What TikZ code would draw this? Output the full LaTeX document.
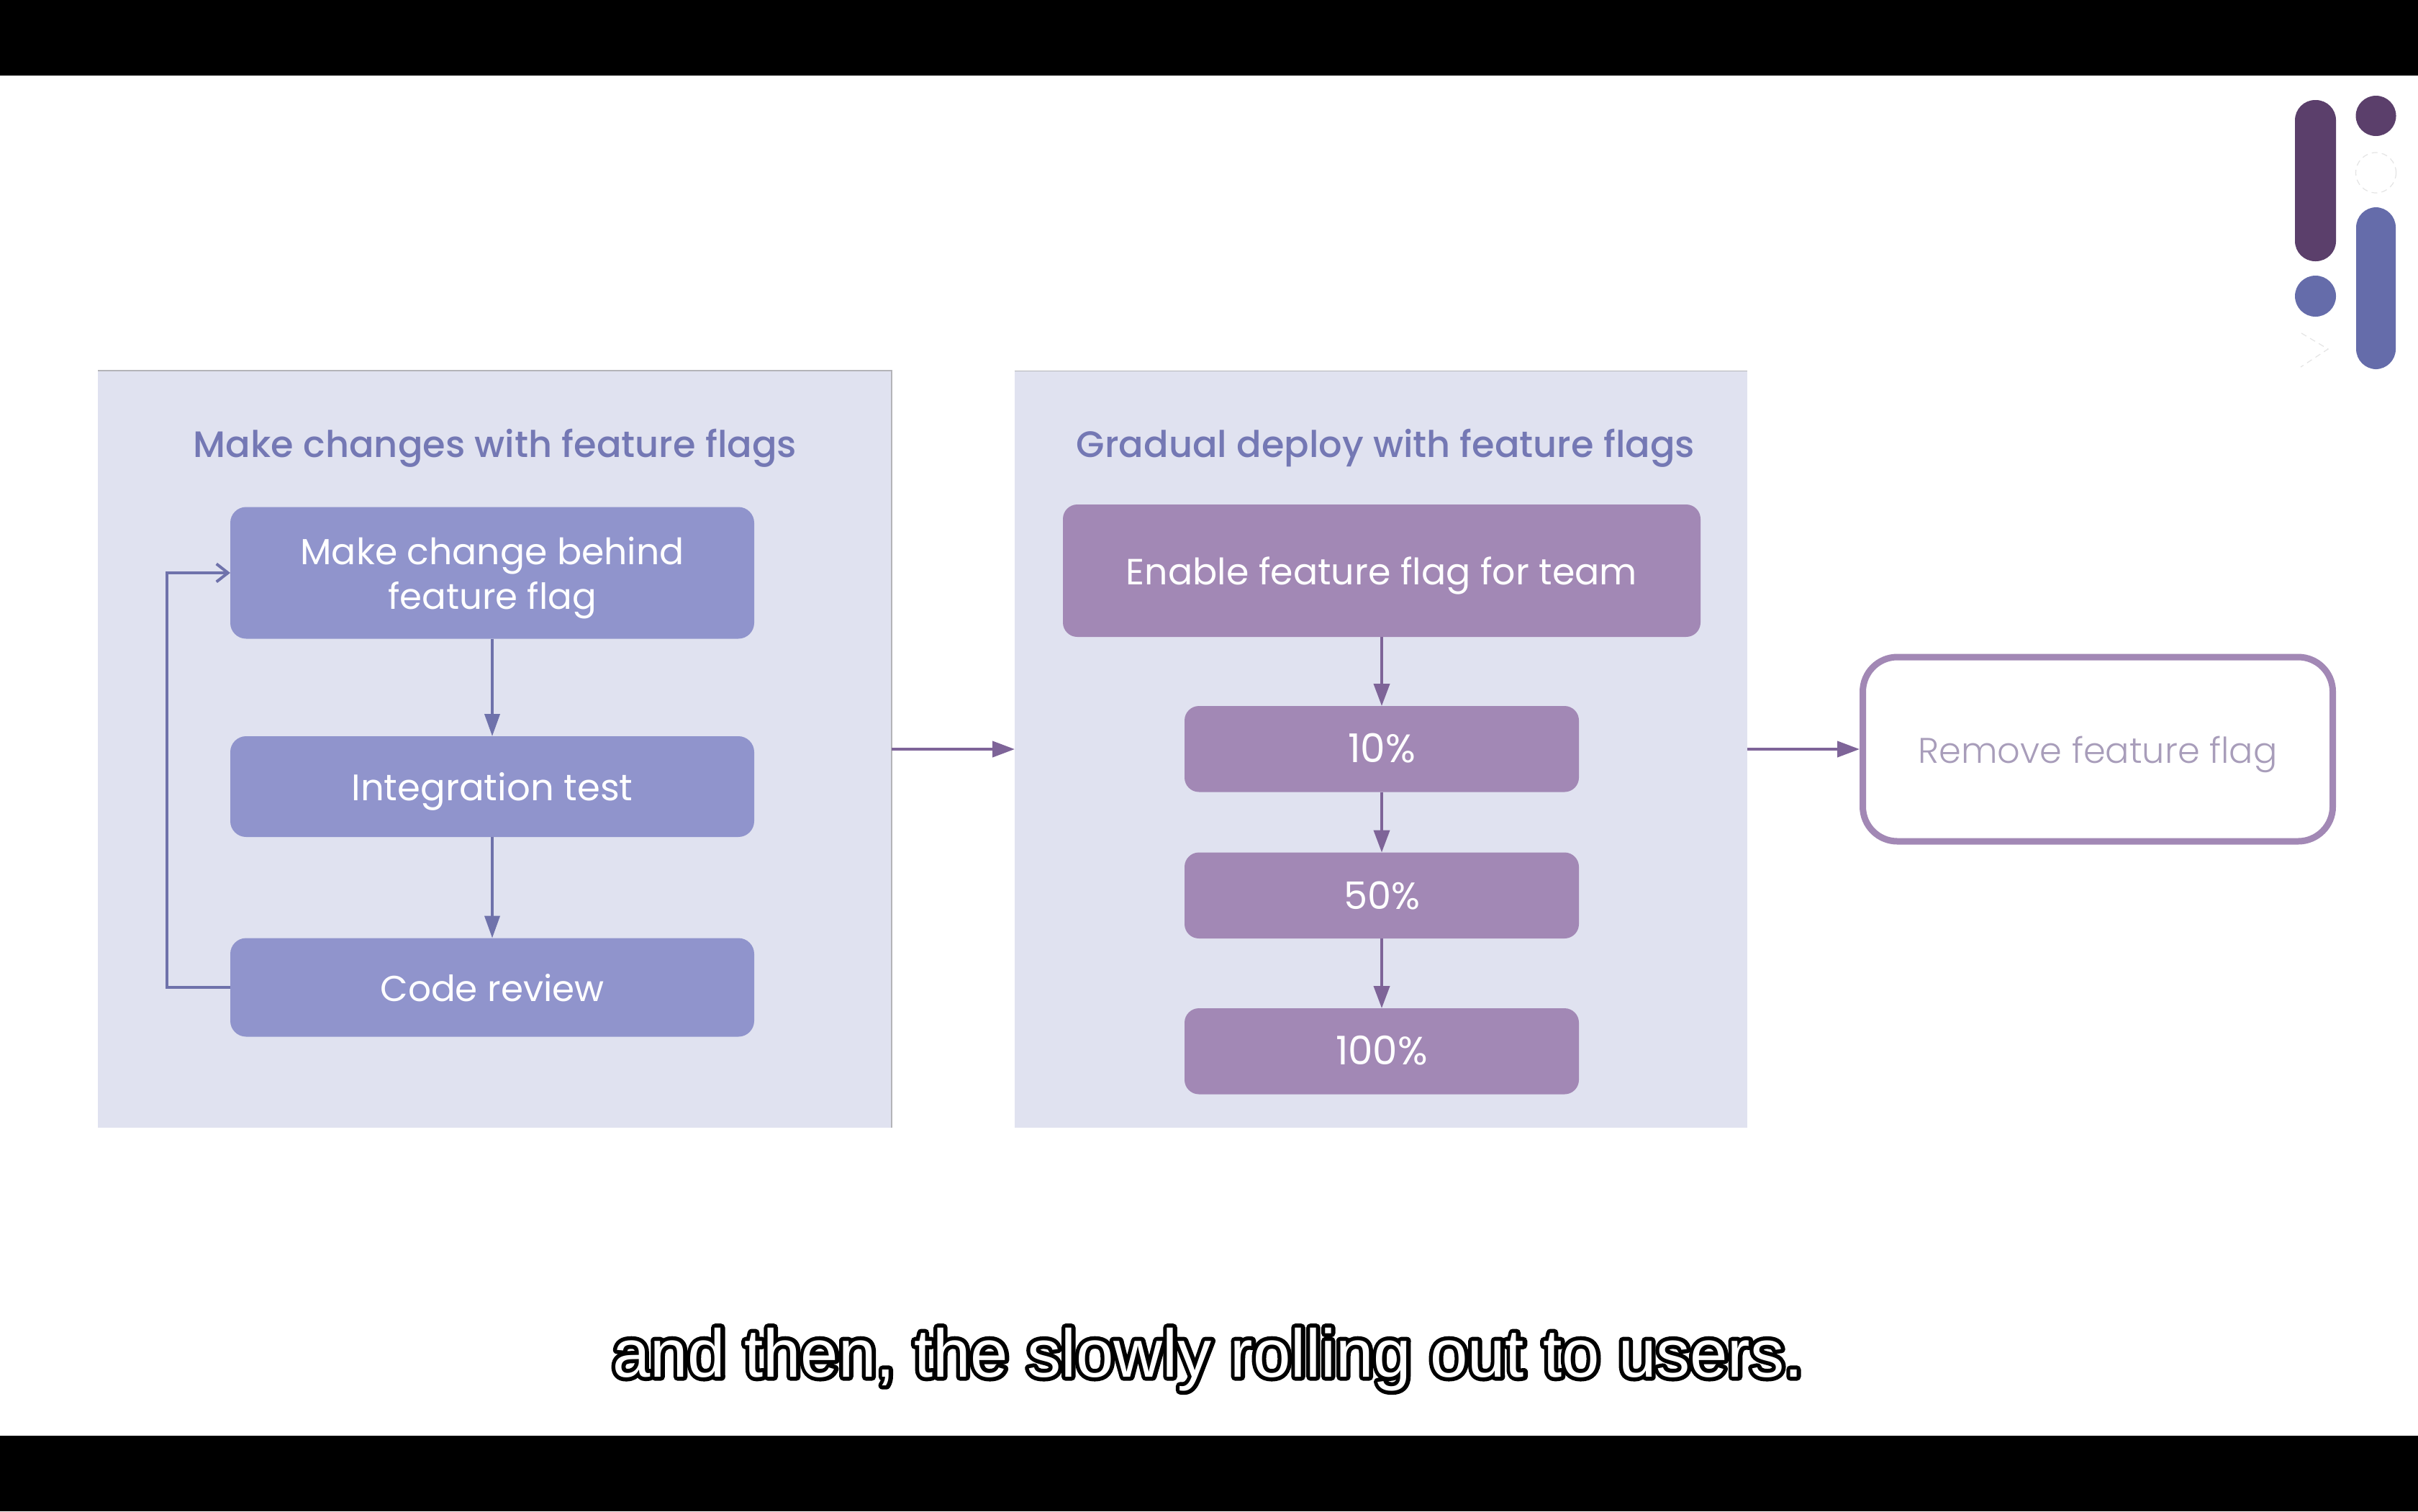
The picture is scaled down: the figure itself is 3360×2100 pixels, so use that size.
\documentclass[tikz,border=0pt]{standalone}
\usepackage{fontspec}
\usepackage{graphicx}
\usetikzlibrary{arrows.meta}
\setmainfont{Poppins}
\newfontfamily\titlefont{Poppins Medium}
\newfontfamily\lightfont{Poppins Light}
\newfontfamily\capfont{Liberation Sans}
\definecolor{panelbg}{HTML}{E0E2F0}
\definecolor{edgegray}{HTML}{B4B4B8}
\definecolor{bluebox}{HTML}{9094CC}
\definecolor{purplebox}{HTML}{A288B5}
\definecolor{bluearrow}{HTML}{6F72AB}
\definecolor{purplearrow}{HTML}{7E6498}
\definecolor{titleblue}{HTML}{7478B4}
\definecolor{removetext}{HTML}{A89DBA}
\definecolor{logodark}{HTML}{5B3F6B}
\definecolor{logoblue}{HTML}{656CAA}
\definecolor{ghost}{HTML}{E4E4E4}
\newcommand{\fw}[2]{\resizebox{#1pt}{!}{#2}}
\newcommand{\captxt}{and then, the slowly rolling out to users.}
\tikzset{
  panel/.style={fill=panelbg,draw=none,inner sep=0pt,outer sep=0pt},
  titletext/.style={text=titleblue,font=\titlefont,inner sep=0pt,text height=18.5pt,text depth=0pt},
  bluestep/.style={fill=bluebox,draw=none,rounded corners=11pt,text=white,inner sep=0pt,outer sep=0pt,text height=19pt,text depth=0pt,align=center},
  purplestep/.style={fill=purplebox,draw=none,rounded corners=10pt,text=white,inner sep=0pt,outer sep=0pt,text height=19pt,text depth=0pt,align=center},
  removebox/.style={fill=white,draw=purplebox,line width=4.5pt,rounded corners=24pt,text=removetext,font=\lightfont,inner sep=0pt,outer sep=2.25pt,text height=19pt,text depth=0pt},
  bluearr/.style={draw=bluearrow,line width=2pt,-{Triangle[length=15.5pt,width=10.5pt]}},
  purparr/.style={draw=purplearrow,line width=2pt,-{Triangle[length=15.5pt,width=11pt]}},
  looparr/.style={draw=bluearrow,line width=2pt,-{Straight Barb[length=8pt,width=12.5pt,line width=2pt]}},
  logopill/.style={rounded corners=14pt,draw=none},
  ghostline/.style={draw=ghost,line width=0.6pt,dash pattern=on 4pt off 3pt},
}
\begin{document}
\begin{tikzpicture}[x=0.5pt,y=-0.5pt]
\useasboundingbox (0,0) rectangle (3360,2100);
% frame
\fill[white] (0,0) rectangle (3360,2100);
\fill[black] (0,0) rectangle (3360,105);
\fill[black] (0,1995) rectangle (3360,2100);
% logo
\fill[logodark,logopill] (3189,139) rectangle (3246,363);
\fill[logoblue,logopill] (3274,288) rectangle (3329,513);
\fill[logodark] (3301.5,161) circle (28);
\fill[logoblue] (3217.5,411.5) circle (28.5);
\draw[ghostline] (3301.5,240) circle (28);
\draw[ghostline] (3198,463) -- (3235,485) -- (3197,510);
% panels
\node[panel,minimum width=551.5pt,minimum height=526pt] (p1) at (687.5,1041) {};
\node[panel,minimum width=509pt,minimum height=526pt] (p2) at (1919,1041) {};
\draw[edgegray,line width=0.8pt] (p1.north west) -- (p1.north east) -- (p1.south east);
\draw[edgegray,line width=0.5pt] (p2.north west) -- (p2.north east);
% titles
\node[titletext] (t1) at (688,616.5) {\fw{419}{Make changes with feature flags}};
\node[titletext] (t2) at (1925.5,616.5) {\fw{429.5}{Gradual deploy with feature flags}};
% left steps
\node[bluestep,minimum width=364pt,minimum height=91.5pt,text height=50pt] (a) at (684,796) {\fw{266.5}{Make change behind}\\[4pt]\fw{145}{feature flag}};
\node[bluestep,minimum width=364pt,minimum height=70pt] (b) at (684,1093) {\fw{195.5}{Integration test}};
\node[bluestep,minimum width=364pt,minimum height=68.5pt] (c) at (684,1372) {\fw{155.5}{Code review}};
\draw[bluearr] (a.south) -- (b.north);
\draw[bluearr] (b.south) -- (c.north);
\coordinate (loopx) at (232,1100);
\draw[looparr] (c.west) -| (loopx) |- (a.west);
% right steps
\node[purplestep,minimum width=443pt,minimum height=92pt] (d) at (1920,793) {\fw{355}{Enable feature flag for team}};
\node[purplestep,minimum width=274pt,minimum height=59.75pt] (e) at (1920,1040.75) {\fw{47}{10\%}};
\node[purplestep,minimum width=274pt,minimum height=59.75pt] (f) at (1920,1244.25) {\fw{53}{50\%}};
\node[purplestep,minimum width=274pt,minimum height=59.75pt] (g) at (1920,1460.75) {\fw{64}{100\%}};
\draw[purparr] (d.south) -- (e.north);
\draw[purparr] (e.south) -- (f.north);
\draw[purparr] (f.south) -- (g.north);
% remove
\node[removebox,minimum width=326.5pt,minimum height=128pt] (r) at (2915,1041) {\fw{249.5}{Remove feature flag}};
\draw[purparr] (p1.east) -- (p2.west);
\draw[purparr] (p2.east) -- (r.west);
% caption
\node[anchor=base,inner sep=0pt,text=white,font=\capfont\fontsize{47.1pt}{52pt}\selectfont] (cap) at (1678.5,1913)
  {\rlap{\special{pdf:code 1 Tr 5.6 w 1 j 0 0 0 RG}\captxt\special{pdf:code 0 Tr}}\captxt};
\end{tikzpicture}
\end{document}
